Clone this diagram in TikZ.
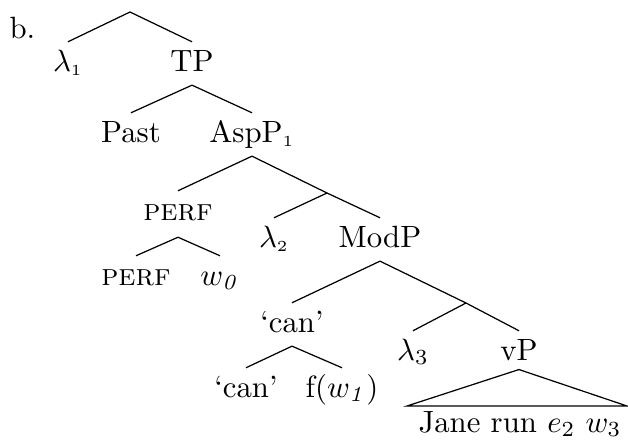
\documentclass[tikz,border=0pt]{standalone}
\begin{document}
\begin{tikzpicture}[x=0.325pt,y=-0.325pt]
\tikzstyle{lbl}=[inner sep=0pt,anchor=base,text height=9.3pt,text depth=4.4pt]
\useasboundingbox (0,0) rectangle (628,441);
\draw (9,38) node[anchor=base west,inner sep=0pt] (item) {b.};
\coordinate (top) at (130,12);
\coordinate (bar1) at (327,193);
\coordinate (bar2) at (466,303);
\coordinate (tril) at (407,406);
\coordinate (trir) at (627,406);
\draw (68,71)   node[lbl] (lam1)  {$\lambda_{\scriptscriptstyle 1}$};
\draw (192,71)  node[lbl] (TP)    {TP};
\draw (131,142) node[lbl] (Past)  {Past};
\draw (252,142) node[lbl] (AspP)  {AspP$_{\scriptscriptstyle 1}$};
\draw (178,220) node[lbl] (perf1) {\textsc{perf}};
\draw (274,247) node[lbl] (lam2)  {$\lambda_{\scriptscriptstyle 2}$};
\draw (380,247) node[lbl] (ModP)  {ModP};
\draw (136,285) node[lbl] (perf2) {\textsc{perf}};
\draw (220,285) node[lbl] (w0)    {$w_{\mathit{0}}$};
\draw (292,332) node[lbl] (can1)  {`can'};
\draw (413,360) node[lbl] (lam3)  {$\lambda_3$};
\draw (519,360) node[lbl] (vP)    {vP};
\draw (246,397) node[lbl] (can2)  {`can'};
\draw (342,397) node[lbl] (fw1)   {f($w_{\mathit{1}}$)};
\draw (520,432) node[lbl] (jane)  {Jane run $e_2$\ $w_3$};
\draw (top) -- (lam1.north);
\draw (top) -- (TP.north);
\draw (TP.south) -- (Past.north);
\draw (TP.south) -- (AspP.north);
\draw (AspP.south) -- (perf1.north);
\draw (AspP.south) -- (bar1);
\draw (bar1) -- (lam2.north);
\draw (bar1) -- (ModP.north);
\draw ([yshift=-1pt]perf1.south) -- (perf2.north);
\draw ([yshift=-1pt]perf1.south) -- (w0.north);
\draw (ModP.south) -- (can1.north);
\draw (ModP.south) -- (bar2);
\draw (bar2) -- (lam3.north);
\draw (bar2) -- (vP.north);
\draw (can1.south) -- (can2.north);
\draw (can1.south) -- (fw1.north);
\draw ([yshift=1.5pt]vP.south) -- (tril) -- (trir) -- cycle;
\end{tikzpicture}
\end{document}
